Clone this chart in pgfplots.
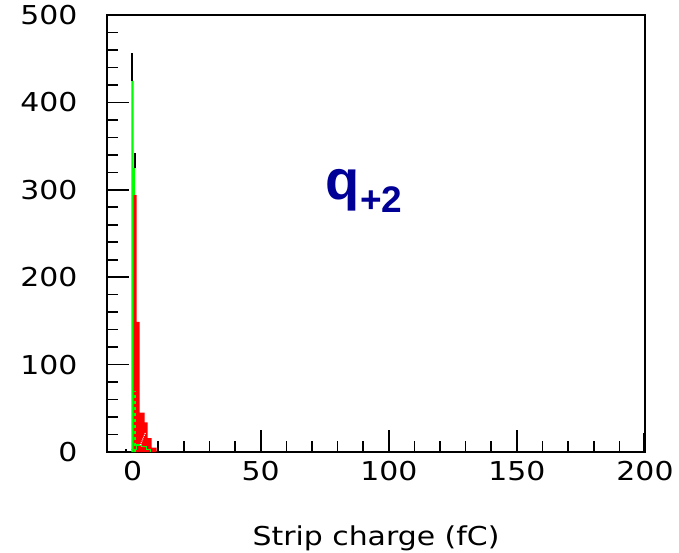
\documentclass[border=0pt]{standalone}
\usepackage{fontspec}
\usepackage{pgfplots}
\pgfplotsset{compat=1.18}
\setmainfont{DejaVu Sans}
\newfontfamily\tickfont[FakeStretch=1.15]{DejaVu Sans}
\newfontfamily\qfont{Liberation Sans}
\definecolor{qblue}{RGB}{0,0,150}
\definecolor{hgreen}{RGB}{0,255,0}
\definecolor{hred}{RGB}{255,0,0}
\begin{document}
\begin{tikzpicture}
\begin{axis}[
  at={(107pt,100pt)}, anchor=south west,
  scale only axis, width=538pt, height=437pt,
  xmin=-10, xmax=200, ymin=0, ymax=500,
  xtick={0,50,100,150,200}, ytick={0,100,200,300,400,500},
  minor x tick num=4, minor y tick num=4,
  tick pos=left, tick align=inside,
  major tick length=22pt, minor tick length=11pt,
  every tick/.style={black, line width=1.6pt},
  axis line style={line width=1.6pt},
  x axis line style={line width=2pt},
  /pgf/number format/assume math mode=true,
  ticklabel style={font=\fontsize{26}{30}\tickfont},
  xticklabel style={yshift=-6pt},
  yticklabel style={xshift=-26pt},
  xlabel={Strip charge (fC)},
  xlabel style={at={(axis description cs:0.5,0)}, anchor=base, yshift=-93pt, inner sep=0pt, font=\fontsize{26}{30}\tickfont},
  clip=false,
]
% green histogram
\addplot[ybar interval, fill=hgreen, draw=none] coordinates {(-0.5,425) (0.4,325) (1.0,0)};
% red histogram
\addplot[ybar interval, fill=hred, draw=none] coordinates {
 (0.4,294) (1.6,149) (2.7,45) (4.7,34) (5.9,16) (7.4,5) (9.4,0)};
% green details inside red
\addplot[hgreen, dashed, line width=1.5pt] coordinates {(0.9,0) (0.9,70)};
\addplot[hgreen, line width=1.2pt, const plot] coordinates {(-0.5,3) (1.5,8) (3.5,6) (5.5,3) (7,0)};
% white gaps in red
\addplot[white, line width=1pt, densely dotted] coordinates {(3,8) (5,22)};
% black error bars
\addplot[black, line width=2pt] coordinates {(-0.2,425) (-0.2,456)};
\addplot[black, line width=2pt] coordinates {(0.9,325) (0.9,342)};
\addplot[black, line width=2pt] coordinates {(9.8,0) (9.8,12)};
\addplot[black, line width=2pt] coordinates {(-2.5,0) (-2.5,4)};
\addplot[black, line width=2.5pt] coordinates {(199.6,0) (199.6,22)};
\node[anchor=base west, inner sep=0pt, text=qblue] at (rel axis cs:0.405,0.578)
  {\fontsize{56}{60}\qfont\bfseries q\kern1pt\raisebox{-13pt}{\fontsize{37}{40}\qfont\bfseries +2}};
\end{axis}
\pgfresetboundingbox
\path[use as bounding box] (0,0) rectangle (679pt,552pt);
\end{tikzpicture}
\end{document}
